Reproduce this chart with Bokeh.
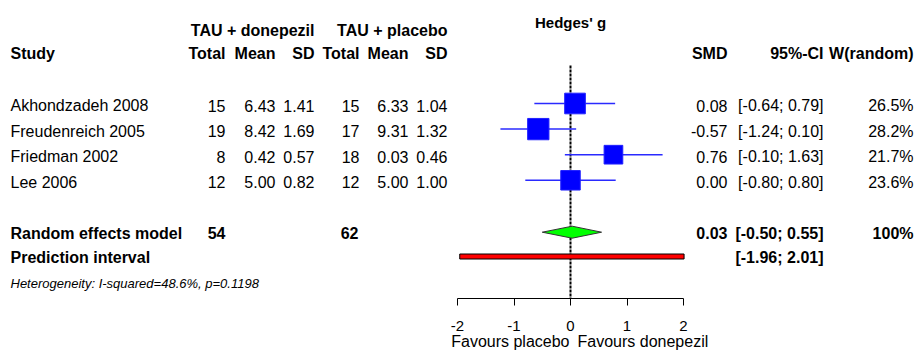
from bokeh.plotting import figure
from bokeh.models import Range1d, LinearAxis, FixedTicker
from bokeh.core.properties import value
from bokeh.embed import file_html
from bokeh.resources import INLINE
import math

# ---------------- data ----------------
studies = ["Akhondzadeh 2008", "Freudenreich 2005", "Friedman 2002", "Lee 2006"]
n_don = [15, 19, 8, 12]
mean_don = [6.43, 8.42, 0.42, 5.00]
sd_don = [1.41, 1.69, 0.57, 0.82]
n_pla = [15, 17, 18, 12]
mean_pla = [6.33, 9.31, 0.03, 5.00]
sd_pla = [1.04, 1.32, 0.46, 1.00]
smd = [0.08, -0.57, 0.76, 0.00]
ci_lo = [-0.64, -1.24, -0.10, -0.80]
ci_hi = [0.79, 0.10, 1.63, 0.80]
weight = [26.5, 28.2, 21.7, 23.6]

re_smd, re_lo, re_hi = 0.03, -0.50, 0.55
pi_lo, pi_hi = -1.96, 2.01
total_don, total_pla = 54, 62
i_squared, p_het = 48.6, 0.1198
ticks = [-2, -1, 0, 1, 2]
tick_labels = ["-2", "-1", "0", "1", "2"]

# ---------------- layout ----------------
W, H = 915, 353
ZERO_PX, SCALE = 570.0, 56.5          # pixel of SMD 0, pixels per SMD unit
def X(px):                             # screen column -> data x
    return (px - ZERO_PX) / SCALE

FONT = value("Liberation Sans")
row_y = [103 + 25.6 * i for i in range(len(studies))]
base = [y + 7.7 for y in row_y]
RE_Y, PI_Y = 231.7, 256.0
AXIS_Y = 298

p = figure(width=W, height=H, x_range=Range1d(X(0), X(W)), y_range=Range1d(H, 0),
           output_backend="svg", toolbar_location=None, min_border=0,
           x_axis_type=None, y_axis_type=None)
p.outline_line_color = None
p.grid.visible = False
p.background_fill_color = "white"
p.border_fill_color = "white"

def txt(x, y, t, align="left", size=16, style="normal", color="black", x_offset=0):
    p.text(x=x, y=y, text=t, text_align=align, text_baseline="alphabetic",
           text_font=FONT, text_font_size=f"{size}px", text_font_style=style,
           text_color=color, x_offset=x_offset, y_offset=-0.35 * size)

# headers
txt([X(314), X(447)], [35.5, 35.5], ["TAU + donepezil", "TAU + placebo"], "right", style="bold")
txt([0], [27], ["Hedges' g"], "center", size=15, style="bold")
txt([X(10)], [58.3], ["Study"], style="bold")
txt([X(225), X(275), X(314), X(359), X(408), X(447)], [58.3] * 6,
    ["Total", "Mean", "SD", "Total", "Mean", "SD"], "right", style="bold")
txt([X(727), X(823), X(913)], [58.3] * 3, ["SMD", "95%-CI", "W(random)"], "right", style="bold")

# study rows
txt([X(10)] * 4, base, studies)
txt([X(225)] * 4, base, [str(v) for v in n_don], "right")
txt([X(275)] * 4, base, [f"{v:.2f}" for v in mean_don], "right")
txt([X(314)] * 4, base, [f"{v:.2f}" for v in sd_don], "right")
txt([X(359)] * 4, base, [str(v) for v in n_pla], "right")
txt([X(408)] * 4, base, [f"{v:.2f}" for v in mean_pla], "right")
txt([X(447)] * 4, base, [f"{v:.2f}" for v in sd_pla], "right")
txt([X(727)] * 4, base, [f"{v:.2f}" for v in smd], "right")
txt([X(823)] * 4, base, [f"[{a:.2f}; {b:.2f}]" for a, b in zip(ci_lo, ci_hi)], "right")
txt([X(913)] * 4, base, [f"{w:.1f}%" for w in weight], "right")

# pooled rows
txt([X(10)], [238.3], ["Random effects model"], style="bold")
txt([X(225), X(358)], [238.3, 238.3], [str(total_don), str(total_pla)], "right", style="bold")
txt([X(727)], [238.3], [f"{re_smd:.2f}"], "right", style="bold")
txt([X(823)], [238.3], [f"[{re_lo:.2f}; {re_hi:.2f}]"], "right", style="bold")
txt([X(913)], [238.3], ["100%"], "right", style="bold")
txt([X(10)], [262.7], ["Prediction interval"], style="bold")
txt([X(823)], [262.7], [f"[{pi_lo:.2f}; {pi_hi:.2f}]"], "right", style="bold")
txt([X(10)], [287.3], [f"Heterogeneity: I-squared={i_squared}%, p={p_het}"], size=13, style="italic")

# zero line
p.segment(x0=[0], y0=[65], x1=[0], y1=[AXIS_Y], line_color="black", line_width=2, line_dash="3 1")

# study CIs and squares
p.segment(x0=ci_lo, y0=row_y, x1=ci_hi, y1=row_y, line_color="#2a2aff", line_width=1.5)
sizes = [21.3 * math.sqrt(w / max(weight)) for w in weight]
p.scatter(x=smd, y=row_y, size=sizes, marker="square", fill_color="#0000ff",
          line_color="#2020ff", line_width=1)

# diamond
p.patch(x=[re_lo, re_smd, re_hi, re_smd], y=[RE_Y, RE_Y - 6, RE_Y, RE_Y + 6],
        fill_color="#00ff00", line_color="#333333", line_width=1)

# prediction interval
p.hbar(y=[PI_Y], left=[pi_lo], right=[pi_hi], height=5, fill_color="#ff0000",
       line_color="black", line_width=1)

# axis
ax = LinearAxis(ticker=FixedTicker(ticks=ticks), bounds=(min(ticks), max(ticks)),
                fixed_location=AXIS_Y, major_tick_out=7, major_tick_in=0,
                minor_tick_out=0, minor_tick_in=0, major_label_standoff=15,
                major_label_overrides={t: s for t, s in zip(ticks, tick_labels)},
                major_label_text_font="Liberation Sans", major_label_text_font_size="15px",
                major_label_text_color="black", axis_line_color="black",
                major_tick_line_color="black")
p.add_layout(ax, "below")

txt([0], [347], ["Favours placebo"], "right", size=16, x_offset=-1)
txt([0], [347], ["Favours donepezil"], "left", size=16, x_offset=7)

open("out.html", "w").write(file_html(p, INLINE))
